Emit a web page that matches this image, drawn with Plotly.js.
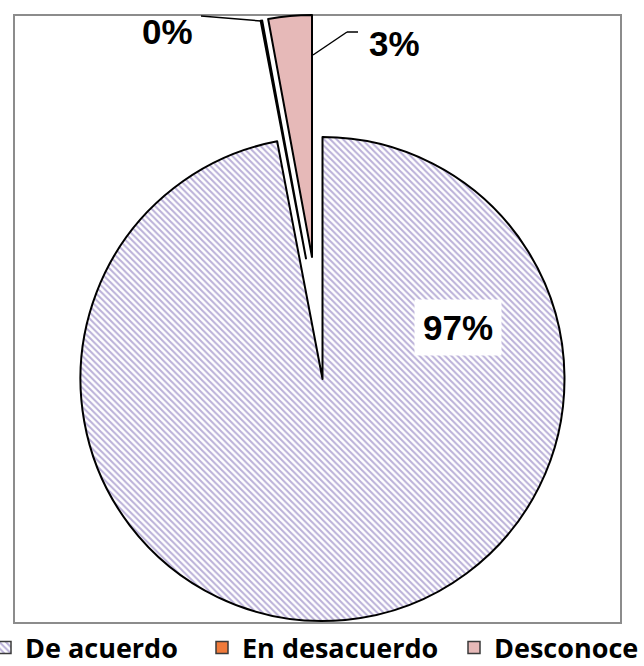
<!DOCTYPE html>
<html>
<head>
<meta charset="utf-8">
<script src="https://cdn.plot.ly/plotly-3.0.1.min.js"></script>
<style>
html,body{margin:0;padding:0;background:#fff;}
#chart{width:644px;height:666px;}
</style>
</head>
<body>
<div id="chart"></div>
<script>
// ---- data ----
var labels = ['De acuerdo', 'En desacuerdo', 'Desconoce'];
var values = [97, 0.1, 2.9];
var sliceColors = ['#ffffff', '#f07a3a', '#e6b9b8'];
var hatchShapes = ['\\', '', ''];

// ---- helpers (pixel -> paper) ----
var W = 644, H = 666;
function px(x){ return x / W; }
function py(y){ return 1 - y / H; }
function dom(cx, cy, r){
  return {x: [px(cx - r), px(cx + r)], y: [py(cy + r), py(cy - r)]};
}
var R = 242;
var total = values.reduce(function(a,b){return a+b;}, 0);
var pct = values.map(function(v){ return Math.round(v / total * 100) + '%'; });

var hatchStyle = {fgcolor: '#bab0d8', bgcolor: '#ffffff', size: 4.5, solidity: 0.45, fillmode: 'replace'};
function pattern(shapes){
  return {shape: shapes, fgcolor: hatchStyle.fgcolor, bgcolor: hatchStyle.bgcolor,
          size: hatchStyle.size, solidity: hatchStyle.solidity, fillmode: hatchStyle.fillmode};
}

// one pie trace showing only slice `idx` (others transparent)
function sliceTrace(idx, d){
  return {
    type: 'pie',
    labels: labels,
    values: values,
    sort: false,
    direction: 'clockwise',
    rotation: 0,
    domain: d,
    textinfo: 'none',
    hoverinfo: 'label+percent',
    showlegend: false,
    marker: {
      colors: sliceColors.map(function(c, i){ return i === idx ? c : 'rgba(0,0,0,0)'; }),
      line: {color: '#000000', width: sliceColors.map(function(c, i){ return i === idx ? 2 : 0; })},
      pattern: pattern(hatchShapes.map(function(s, i){ return i === idx ? s : ''; }))
    }
  };
}

// tiny single-slice pies used only as legend sources (hidden under the main slice)
var legendNames = ['legend', 'legend2', 'legend3'];
function legendTrace(i){
  return {
    type: 'pie',
    labels: [labels[i]],
    values: [values[i]],
    sort: false,
    domain: {x: [0.30, 0.302], y: [0.30, 0.302]},
    textinfo: 'none',
    hoverinfo: 'skip',
    showlegend: true,
    legend: legendNames[i],
    marker: {
      colors: [sliceColors[i]],
      line: {color: '#3a3a3a', width: 1.5},
      pattern: pattern([hatchShapes[i]])
    }
  };
}

var traces = [
  legendTrace(0), legendTrace(1), legendTrace(2),
  sliceTrace(0, dom(322.5, 379, R)),   // main slice
  sliceTrace(1, dom(306, 258.5, R)),   // exploded "En desacuerdo"
  sliceTrace(2, dom(312, 257, R))      // exploded "Desconoce"
];

var labFont = {family: 'Liberation Sans, Arial, sans-serif', size: 35, color: '#000', weight: 'bold'};
var legFont = {family: 'Open Sans, sans-serif', size: 27, color: '#000', weight: 'bold'};
function legendAt(xpx){
  return {orientation: 'h', x: px(xpx), xanchor: 'left', y: py(648), yanchor: 'middle',
          font: legFont, bgcolor: 'rgba(0,0,0,0)', borderwidth: 0};
}

function label(xpx, ypx, text, bg, pad){
  var a = {xref: 'paper', yref: 'paper', x: px(xpx), y: py(ypx), xanchor: 'center', yanchor: 'middle',
           text: text, showarrow: false, font: labFont};
  if(bg){ a.bgcolor = bg; a.borderpad = pad; }
  return a;
}

var layout = {
  width: W, height: H,
  margin: {l: 0, r: 0, t: 0, b: 0, autoexpand: false},
  paper_bgcolor: '#ffffff',
  plot_bgcolor: '#ffffff',
  showlegend: true,
  legend: legendAt(-15),
  legend2: legendAt(202),
  legend3: legendAt(454),
  shapes: [
    {type: 'rect', xref: 'paper', yref: 'paper', layer: 'below',
     x0: px(14), x1: px(621), y0: py(623), y1: py(15),
     line: {color: '#8c8c8c', width: 2}, fillcolor: 'rgba(0,0,0,0)'},
    {type: 'line', xref: 'paper', yref: 'paper', x0: px(313), y0: py(55), x1: px(347), y1: py(32), line: {color: '#000', width: 1.5}},
    {type: 'line', xref: 'paper', yref: 'paper', x0: px(347), y0: py(32), x1: px(358), y1: py(32), line: {color: '#000', width: 1.5}},
    {type: 'line', xref: 'paper', yref: 'paper', x0: px(261), y0: py(21), x1: px(201), y1: py(16), line: {color: '#000', width: 1.5}}
  ],
  annotations: [
    label(458, 327, pct[0], '#ffffff', 8),
    label(394, 44, pct[2], '#ffffff', 6),
    label(167, 31, pct[1], null, 0)
  ]
};

Plotly.newPlot('chart', traces, layout, {displayModeBar: false, staticPlot: true});
</script>
</body>
</html>
